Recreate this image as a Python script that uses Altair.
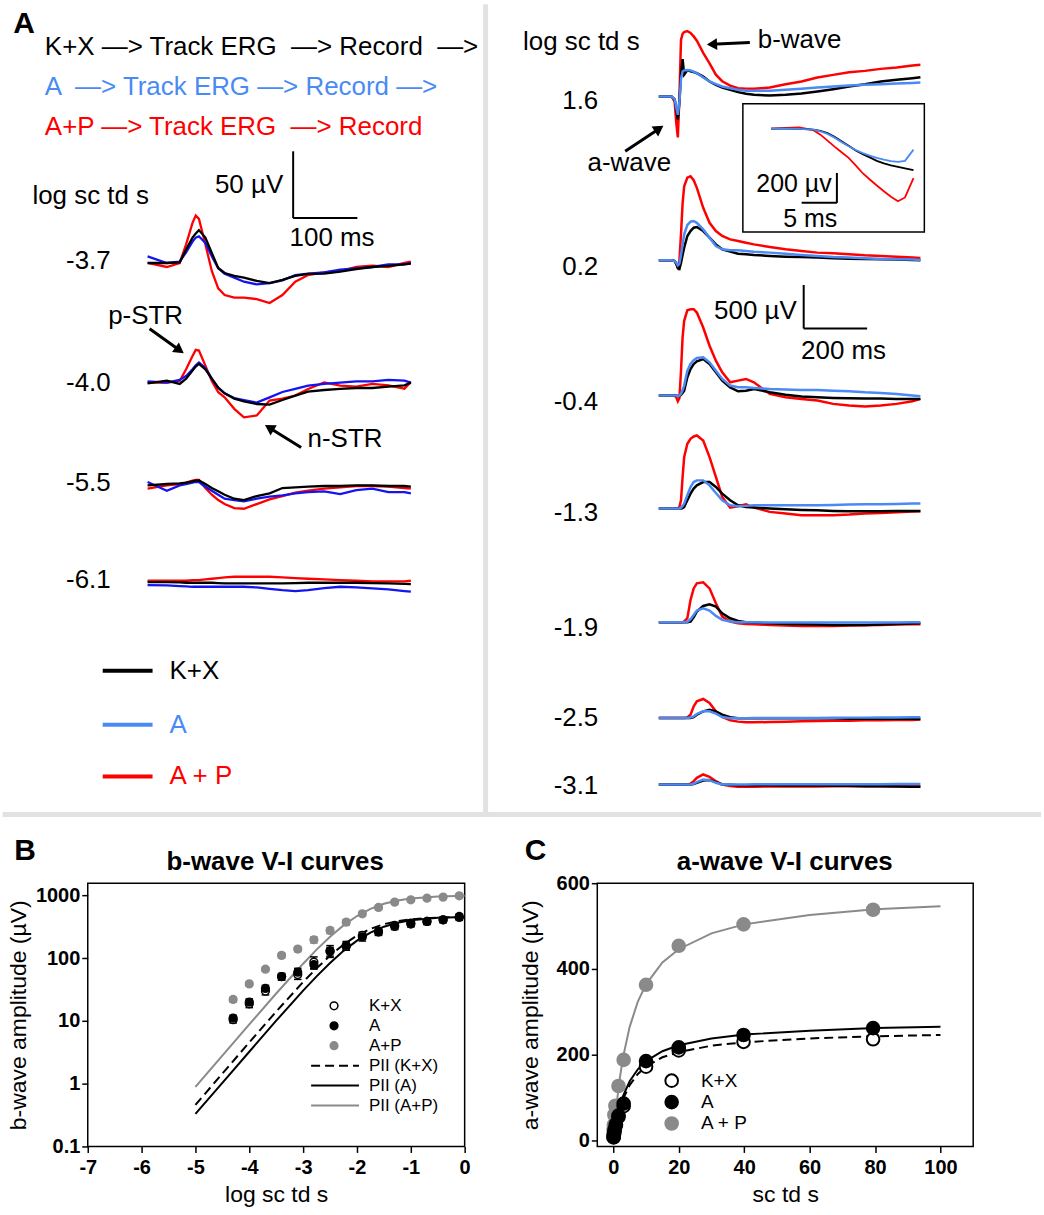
import math
import altair as alt
import pandas as pd

# ======================= values =======================
# Panel A (left): dim-flash ERGs, time in ms from sweep start, response in uV
AL_TIME = [0, 30, 50, 60, 70, 75, 80, 90, 100, 110, 120, 135, 150, 170, 190,
           210, 230, 250, 275, 300, 325, 350, 375, 400, 410]
AL_LEVELS = ["-3.7", "-4.0", "-5.5", "-6.1"]
AL_KX = {
    "-3.7": [0, 0, 0.5, 10, 19, 22, 24.6, 19, 7.5, -3.7, -7.5, -9.7, -11, -13.4, -15, -12.7, -9.7, -8.2, -8, -6.5, -4.5, -3, -2.2, -1, -0.5],
    "-4.0": [-0.5, 1.5, -1, 3, 9, 12, 14, 10, 3, -3.7, -8, -12, -14, -16, -16.5, -13, -9.7, -6.7, -5.5, -4.7, -4, -4, -3, -2, 0],
    "-5.5": [0, 1, 1.5, 2, 3, 3.5, 3.7, 1, -2, -4.5, -7, -10, -11, -8, -6, -2, -1.5, -1, -0.5, -0.5, 0, 0, -0.5, -0.5, -1],
    "-6.1": [0.5, 0.5, 0.3, 0, 0, 0, 0, 0, 0, -0.3, -0.5, -0.5, -0.5, -0.5, -0.5, -0.5, -0.3, 0, 0, 0, 0, -0.3, -0.5, -0.8, -1],
}
AL_A = {
    "-3.7": [5, 0, 1, 8, 16, 19, 20, 15, 5, -4, -8, -11, -14, -16, -15, -13, -9, -8, -7, -5, -4, -3, -1, -1, 0],
    "-4.0": [1, 0, 2, 5, 10, 13, 15, 11, 3, -4, -8, -11.5, -13, -15, -11, -7, -4.7, -2.2, -1, 0, 1, 1, 2, 1.5, 0],
    "-5.5": [2.5, -4, 0, 1, 2, 2.5, 2.5, -1, -4, -7, -10, -11, -12, -10, -8.5, -7.5, -6, -5, -4.5, -6.5, -3.5, -2.5, -5, -5, -6],
    "-6.1": [-1.7, -2, -2.5, -2.7, -3, -3, -3, -3, -3, -3, -3, -3, -3, -3.5, -4.5, -5.5, -6.2, -5.5, -4, -3, -3.5, -4.2, -5, -6.2, -6.7],
}
AL_AP = {
    "-3.7": [0, -3, 0, 14, 30, 35.5, 33, 14, -6, -19, -24, -26, -26, -27, -30, -24, -14, -9, -7, -6, -3, -2, -3, 0, 1],
    "-4.0": [0, 0, 1.2, 10, 20, 24.5, 24, 12.7, 1.2, -7.2, -11, -19.6, -26, -24.6, -13.4, -12, -9.7, -4.7, 0.2, -2.2, -3, -1, -2, -4.5, 0.5],
    "-5.5": [-2.5, 0, 1, 2, 3.5, 4, 4, -2, -7, -11, -14, -17, -17.5, -14, -10.5, -8, -5.5, -4, -2.5, -1.5, -0.5, -0.5, -1, -2, -2.5],
    "-6.1": [1.5, 1.5, 1.5, 1.5, 2, 2, 2, 2.5, 3, 3.5, 4, 4.5, 4.5, 4.5, 4.5, 4, 3.5, 3, 2.5, 2, 1.5, 1, 1, 1, 1.5],
}

# Panel A (right): brighter flashes, time in ms, response in uV
AR_TIME = [0, 40, 50, 55, 60, 65, 70, 75, 80, 90, 100, 110, 120, 140, 160, 180,
           200, 225, 250, 275, 300, 350, 400, 450, 500, 550, 600, 650, 700, 750, 800, 825]
AR_LEVELS = ["1.6", "0.2", "-0.4", "-1.3", "-1.9", "-2.5", "-3.1"]
AR_KX = {
    "1.6": [0, 0, -30, -150, -265, -60, 250, 430, 250, 300, 290, 280, 267, 229, 172, 134, 103, 76, 50, 31, 19, 11, 19, 34, 57, 84, 115, 141, 172, 191, 210, 221],
    "0.2": [0, 0, -10, -40, -90, -100, -30, 60, 145, 279, 336, 374, 382, 336, 260, 183, 126, 99, 76, 69, 61, 50, 42, 38, 31, 23, 19, 15, 11, 8, 4, 0],
    "-0.4": [0, 0, 0, 0, -5, -5, 10, 30, 57, 210, 305, 363, 393, 420, 363, 267, 172, 95, 50, 57, 76, 38, 11, -11, -19, -27, -31, -34, -34, -38, -38, -38],
    "-1.3": [0, 0, 0, 0, 0, 0, 0, 5, 19, 95, 172, 229, 267, 305, 305, 248, 172, 95, 38, 19, 11, 0, -8, -15, -19, -27, -31, -31, -31, -27, -27, -27],
    "-1.9": [0, 0, 0, 0, 0, 0, 0, 0, 0, 0, 8, 57, 122, 187, 206, 179, 103, 46, 15, 0, -4, -11, -19, -23, -27, -31, -31, -31, -27, -19, -15, -11],
    "-2.5": [0, 0, 0, 0, 0, 0, 0, 0, 0, 0, 0, 11, 38, 76, 95, 76, 38, 8, -4, -4, -4, -4, -4, -4, -4, -4, -8, -8, -8, -8, -8, -11],
    "-3.1": [0, 0, 0, 0, 0, 0, 0, 0, 0, 0, 0, 5, 19, 46, 50, 27, 0, -4, -8, -8, -8, -8, -11, -11, -11, -15, -15, -19, -19, -23, -27, -27],
}
AR_A = {
    "1.6": [0, 0, -30, -130, -210, -60, 200, 286, 300, 305, 300, 285, 267, 218, 172, 141, 115, 95, 76, 65, 65, 65, 76, 88, 103, 115, 126, 134, 141, 149, 156, 160],
    "0.2": [0, 0, -10, -30, -60, -40, 60, 180, 298, 405, 443, 450, 431, 355, 260, 164, 126, 115, 115, 107, 99, 88, 76, 61, 50, 38, 31, 23, 15, 11, 8, 4],
    "-0.4": [0, 0, 0, 0, -5, 0, 20, 60, 115, 286, 363, 408, 431, 439, 382, 286, 191, 115, 95, 95, 88, 76, 69, 65, 65, 57, 50, 38, 31, 19, 0, -8],
    "-1.3": [0, 0, 0, 0, 0, 0, 10, 30, 57, 153, 248, 305, 324, 324, 267, 179, 95, 38, 27, 31, 38, 38, 38, 38, 38, 42, 46, 50, 50, 53, 57, 57],
    "-1.9": [0, 0, 0, 0, 0, 0, 0, 0, 0, 5, 34, 84, 134, 160, 134, 73, 27, 8, 0, 0, 0, -4, -4, -4, -4, -4, -4, -4, -4, -2, 0, 0],
    "-2.5": [0, 0, 0, 0, 0, 0, 0, 0, 0, 0, 5, 19, 46, 76, 76, 50, 11, -4, -4, -2, 0, 0, 0, 0, 0, 2, 4, 4, 6, 6, 8, 8],
    "-3.1": [0, 0, 0, 0, 0, 0, 0, 0, 0, 0, 0, 8, 27, 57, 50, 19, 0, 0, 0, 0, 2, 2, 2, 4, 4, 4, 4, 4, 4, 6, 6, 6],
}
AR_AP = {
    "1.6": [0, 0, -60, -300, -470, 0, 650, 720, 740, 750, 730, 690, 640, 500, 380, 250, 175, 125, 95, 90, 88, 103, 141, 172, 218, 248, 279, 294, 317, 332, 355, 363],
    "0.2": [0, 0, -10, -40, -80, 0, 300, 650, 850, 950, 965, 920, 832, 603, 431, 336, 279, 240, 221, 202, 183, 153, 126, 107, 88, 80, 69, 57, 50, 42, 31, 27],
    "-0.4": [0, 0, 0, -20, -65, -30, 286, 668, 859, 981, 992, 992, 954, 782, 573, 401, 267, 153, 172, 191, 153, 19, -19, -38, -57, -95, -115, -126, -115, -95, -65, -38],
    "-1.3": [0, 0, 0, 0, 0, 20, 95, 363, 592, 744, 802, 828, 840, 782, 592, 363, 134, 11, 27, 50, 11, -38, -57, -76, -76, -76, -69, -57, -50, -42, -34, -31],
    "-1.9": [0, 0, 0, 0, 0, 0, 0, 0, 10, 46, 256, 389, 447, 458, 389, 218, 65, 8, -11, -19, -23, -31, -38, -42, -42, -42, -38, -34, -31, -27, -23, -23],
    "-2.5": [0, 0, 0, 0, 0, 0, 0, 0, 0, 5, 38, 134, 191, 218, 172, 76, 11, -27, -42, -50, -50, -46, -42, -38, -34, -31, -31, -27, -27, -23, -23, -19],
    "-3.1": [0, 0, 0, 0, 0, 0, 0, 0, 0, 0, 10, 38, 76, 115, 88, 38, 0, -19, -27, -27, -25, -23, -23, -22, -22, -21, -21, -20, -20, -19, -19, -19],
}

# Inset: a-wave leading edge at 1.6 log sc td s (ms, uV)
INSET_TIME = [0, 2, 4, 6, 7, 8, 9, 10, 11, 12, 13, 14, 15, 16, 17, 18, 19, 20.2]
INSET_KX = [0, 0, -2, -6, -15, -30, -55, -85, -115, -145, -170, -192, -215, -232, -245, -255, -265, -278]
INSET_A = [0, 0, -2, -7, -18, -35, -60, -90, -118, -143, -163, -180, -195, -207, -217, -222, -215, -140]
INSET_AP = [0, 5, 8, -10, -40, -80, -120, -158, -195, -245, -298, -340, -380, -418, -455, -485, -460, -330]

# Panel B: b-wave amplitude (uV) vs log sc td s
B_LOGI = [-4.3, -4.0, -3.7, -3.4, -3.1, -2.8, -2.5, -2.2, -1.9, -1.6, -1.3, -1.0, -0.7, -0.4, -0.1]
B_KX = [10.5, 18.8, 30, 51, 55, 87, 128, 154, 231, 261, 321, 350, 386, 410, 463]
B_KX_ERR = [1.2, 2.5, 4, 6, 9, 18, 20, 20, 30, 30, 35, 35, 40, 40, 45]
B_A = [11.1, 20, 33, 51, 60, 79, 131, 160, 220, 267, 333, 363, 386, 410, 447]
B_A_ERR = [1.2, 2.5, 4, 6, 9, 12, 28, 25, 32, 30, 35, 40, 40, 40, 45]
B_AP = [22, 39, 67, 111, 140, 197, 277, 376, 511, 645, 784, 852, 907, 942, 989]
B_AP_ERR = [2, 3, 5, 10, 13, 22, 30, 38, 45, 50, 55, 55, 55, 60, 70]
B_FIT_X = [-5, -4.5, -4, -3.5, -3, -2.75, -2.5, -2.25, -2, -1.75, -1.5, -1.25, -1, -0.5, 0]
B_FIT_KX = [0.46, 1.45, 4.55, 14.1, 41.8, 69, 110, 165, 230, 294, 349, 390, 418, 446, 455]
B_FIT_A = [0.33, 1.03, 3.23, 10.1, 30.4, 51.4, 84, 131, 191, 256, 318, 368, 403, 440, 454]
B_FIT_AP = [0.89, 2.8, 8.8, 27.4, 81.8, 137, 220, 334, 471, 613, 738, 834, 899, 966, 989]

# Panel C: a-wave amplitude (uV) vs sc td s
C_I = [79.4, 39.8, 20.0, 10.0, 3.16, 1.58, 0.79, 0.40, 0.20, 0.10]
C_KX = [236, 230, 210, 172, 80, 55, 35, 22, 13, 7]
C_A = [262, 246, 217, 185, 86, 58, 38, 25, 15, 8]
C_I_AP = [79.4, 39.8, 20.0, 10.0, 3.16, 1.58, 0.63, 0.32, 0.16, 0.08, 0.04, 0.02]
C_AP = [538, 504, 454, 363, 188, 127, 81, 60, 36, 25, 14, 8]
C_FIT_X = [0, 0.5, 1, 2, 3, 5, 7.5, 10, 15, 20, 30, 40, 60, 80, 100]
C_FIT_KX = [0, 23, 43, 74, 97, 129, 155, 172, 194, 206, 221, 229, 238, 243, 246]
C_FIT_A = [0, 25, 46, 79, 104, 138, 166, 185, 208, 222, 238, 247, 256, 262, 265]
C_FIT_AP = [0, 45, 84, 146, 195, 265, 324, 364, 415, 446, 483, 504, 526, 539, 546]

# ======================= style and layout (page pixels) =======================
FONT = "Liberation Sans"
BLACK, RED, LBLUE, DBLUE = "#000000", "#ff0000", "#4a8af4", "#1414f0"
GRAY, SEP = "#8a8a8a", "#e2e2e2"
NB = "\u00a0"   # non-breaking space keeps the double gaps of the original text
ARW = "\u2014>"

ROW1_H = 812
COL1_X, COL1_W = 88, 378
SP_COL = 133
COL2_X = COL1_X + COL1_W + SP_COL
COL2_W = 1044 - COL2_X
SP_ROW = 72
ROW2_Y = ROW1_H + SP_ROW
ROW2_H = 264
C_W = 377

AL_T0, AL_PXMS, AL_PXUV = 148.0, 0.644, 1.34
AL_BASE = {"-3.7": 262, "-4.0": 382, "-5.5": 485, "-6.1": 582.7}
AL_LABEL_Y = {"-3.7": 260, "-4.0": 382, "-5.5": 483, "-6.1": 580}
AR_T0, AR_PXMS, AR_PXUV = 660.7, 0.318, 0.0873
AR_BASE = {"1.6": 95, "0.2": 259.3, "-0.4": 395, "-1.3": 508.3, "-1.9": 622.3, "-2.5": 718.3, "-3.1": 785}
AR_LABEL_Y = {"1.6": 100, "0.2": 266, "-0.4": 401, "-1.3": 513, "-1.9": 628, "-2.5": 718, "-3.1": 787}
IN_T0, IN_PXMS, IN_Y0, IN_PXUV = 773.3, 7.07, 127.3, 0.15
B_XDOM, B_YDOM = (-7.0, 0.0), (0.1, 1570.0)
C_XDOM, C_YDOM = (-4.9, 110.0), (-14.0, 600.0)


def alx(px): return (px - AL_T0) / AL_PXMS
def aly(py): return (ROW1_H - py) / AL_PXUV
def arx(px): return (px - AR_T0) / AR_PXMS
def ary(py): return (ROW1_H - py) / AR_PXUV
def inx(px): return (px - IN_T0) / IN_PXMS
def iny(py): return (IN_Y0 - py) / IN_PXUV
def bx(px): return B_XDOM[0] + (px - COL1_X) * (B_XDOM[1] - B_XDOM[0]) / COL1_W
def by(py):
    l0, l1 = math.log10(B_YDOM[0]), math.log10(B_YDOM[1])
    return 10 ** (l0 + (ROW2_Y + ROW2_H - py) * (l1 - l0) / ROW2_H)
def cx(px): return C_XDOM[0] + (px - COL2_X) * (C_XDOM[1] - C_XDOM[0]) / C_W
def cy(py): return C_YDOM[0] + (ROW2_Y + ROW2_H - py) * (C_YDOM[1] - C_YDOM[0]) / ROW2_H


def lin(lo, hi):
    return alt.Scale(domain=[lo, hi], nice=False, zero=False)


class Panel:
    def __init__(self, xs, ys, cx_, cy_, xaxis=None, yaxis=None):
        self.xs, self.ys, self.cx, self.cy = xs, ys, cx_, cy_
        self.xaxis, self.yaxis = xaxis, yaxis

    def xy(self):
        return dict(x=alt.X("x:Q", scale=self.xs, axis=self.xaxis),
                    y=alt.Y("y:Q", scale=self.ys, axis=self.yaxis))

    def line(self, xs, ys, color, width=2.2, dash=None, detail=None, df=None):
        if df is None:
            df = pd.DataFrame({"x": xs, "y": ys})
        kw = dict(color=color, strokeWidth=width)
        if dash:
            kw["strokeDash"] = dash
        enc = self.xy()
        if detail:
            enc["detail"] = detail
        return alt.Chart(df).mark_line(**kw).encode(**enc)

    def texts(self, items):
        out = []
        groups = {}
        for it in items:
            groups.setdefault((it[3], it[4]), []).append(it)
        for (align, weight), rows in groups.items():
            df = pd.DataFrame({
                "label": [r[0] for r in rows],
                "x": [self.cx(r[1]) for r in rows],
                "y": [self.cy(r[2]) for r in rows],
                "c": [r[5] for r in rows],
                "fs": [r[6] for r in rows],
            })
            out.append(alt.Chart(df).mark_text(align=align, baseline="middle", font=FONT, fontWeight=weight)
                       .encode(**self.xy(), text="label:N",
                               color=alt.Color("c:N", scale=None),
                               size=alt.Size("fs:Q", scale=None)))
        return out

    def segments(self, segs, color, width, dash=None):
        df = pd.DataFrame(segs, columns=["x", "y", "x2", "y2"])
        kw = dict(color=color, strokeWidth=width)
        if dash:
            kw["strokeDash"] = dash
        return alt.Chart(df).mark_rule(**kw).encode(**self.xy(), x2="x2:Q", y2="y2:Q")

    def arrows(self, specs):
        shafts, heads = [], []
        for (x1, y1, x2, y2) in specs:
            dx, dy = x2 - x1, y2 - y1
            L = math.hypot(dx, dy)
            ux, uy = dx / L, dy / L
            hx, hy = x2 - 6 * ux, y2 - 6 * uy
            ang = (math.degrees(math.atan2(dx, -dy)) + 360.0) % 360.0
            shafts.append((self.cx(x1), self.cy(y1), self.cx(hx), self.cy(hy)))
            heads.append({"x": self.cx(hx), "y": self.cy(hy), "ang": ang})
        return [self.segments(shafts, BLACK, 3),
                alt.Chart(pd.DataFrame(heads)).mark_point(shape="triangle-up", filled=True, color=BLACK,
                                                          size=140, opacity=1)
                .encode(**self.xy(), angle=alt.Angle("ang:Q", scale=None))]


def trace_frame(time, table, base_px, yconv):
    rows = []
    for lvl, vals in table.items():
        off = yconv(base_px[lvl])
        for t, v in zip(time, vals):
            rows.append({"x": t, "y": v + off, "lvl": lvl})
    return pd.DataFrame(rows)


# ======================= Panel A, left =======================
AL = Panel(lin(alx(COL1_X), alx(COL1_X + COL1_W)), lin(aly(ROW1_H), aly(0)), alx, aly)
one = pd.DataFrame({"k": [0]})
al_layers = [
    alt.Chart(one).mark_rule(color=SEP, strokeWidth=5).encode(
        x=alt.value(487 - COL1_X), y=alt.value(2.5), y2=alt.value(ROW1_H + 4)),
    alt.Chart(one).mark_rule(color=SEP, strokeWidth=5).encode(
        x=alt.value(-COL1_X + 2.5), x2=alt.value(1044 - COL1_X), y=alt.value(815)),
    AL.line(None, None, RED, 2.3, detail="lvl:N", df=trace_frame(AL_TIME, AL_AP, AL_BASE, aly)),
    AL.line(None, None, DBLUE, 2.3, detail="lvl:N", df=trace_frame(AL_TIME, AL_A, AL_BASE, aly)),
    AL.line(None, None, BLACK, 2.3, detail="lvl:N", df=trace_frame(AL_TIME, AL_KX, AL_BASE, aly)),
]
t0, u0 = alx(294), aly(217)
al_layers.append(AL.segments([(t0, u0, t0, u0 + 50), (t0, u0, t0 + 100, u0)], BLACK, 2))
al_layers.append(AL.segments([(alx(103), aly(671), alx(153), aly(671))], BLACK, 4))
al_layers.append(AL.segments([(alx(103), aly(725), alx(153), aly(725))], LBLUE, 4))
al_layers.append(AL.segments([(alx(103), aly(777), alx(153), aly(777))], RED, 4))
al_layers += AL.arrows([(150, 328, 185, 353), (302, 447, 265, 424)])
AL_TEXT = [
    ("A", 24, 22, "center", "bold", BLACK, 30),
    (f"K+X {ARW} Track ERG {NB}{ARW} Record {NB}{ARW}", 45, 45, "left", "normal", BLACK, 26),
    (f"A {NB}{ARW} Track ERG {ARW} Record {ARW}", 45, 86, "left", "normal", LBLUE, 26),
    (f"A+P {ARW} Track ERG {NB}{ARW} Record", 45, 126, "left", "normal", RED, 26),
    ("log sc td s", 91, 195, "center", "normal", BLACK, 26),
    ("50 µV", 284, 184, "right", "normal", BLACK, 26),
    ("100 ms", 333, 237, "center", "normal", BLACK, 26),
    ("p-STR", 146, 315, "center", "normal", BLACK, 26),
    ("n-STR", 346, 439, "center", "normal", BLACK, 26),
    ("K+X", 170, 671, "left", "normal", BLACK, 26),
    ("A", 170, 725, "left", "normal", LBLUE, 26),
    ("A + P", 170, 777, "left", "normal", RED, 26),
] + [(lvl, 111, AL_LABEL_Y[lvl], "right", "normal", BLACK, 26) for lvl in AL_LEVELS]
al_layers += AL.texts(AL_TEXT)
chart_al = alt.layer(*al_layers).properties(width=COL1_W, height=ROW1_H)

# ======================= Panel A, right =======================
AR = Panel(lin(arx(COL2_X), arx(COL2_X + COL2_W)), lin(ary(ROW1_H), ary(0)), arx, ary)
ar_layers = [
    AR.line(None, None, RED, 2.5, detail="lvl:N", df=trace_frame(AR_TIME, AR_AP, AR_BASE, ary)),
    AR.line(None, None, BLACK, 2.5, detail="lvl:N", df=trace_frame(AR_TIME, AR_KX, AR_BASE, ary)),
    AR.line(None, None, LBLUE, 2.5, detail="lvl:N", df=trace_frame(AR_TIME, AR_A, AR_BASE, ary)),
]
t1, u1 = arx(806), ary(327.7)
ar_layers.append(AR.segments([(t1, u1, t1, u1 + 500), (t1, u1, t1 + 200, u1)], BLACK, 2))
box = pd.DataFrame({"x": [arx(745)], "x2": [arx(927)], "y": [ary(102.3)], "y2": [ary(231)]})
ar_layers.append(alt.Chart(box).mark_rect(fill="white", stroke=BLACK, strokeWidth=1.5)
                 .encode(**AR.xy(), x2="x2:Q", y2="y2:Q"))
ar_layers += AR.arrows([(752, 41, 708, 43), (627, 150, 666, 124)])
AR_TEXT = [
    ("log sc td s", 583, 40, "center", "normal", BLACK, 26),
    ("b-wave", 760, 38, "left", "normal", BLACK, 26),
    ("a-wave", 673, 162, "right", "normal", BLACK, 26),
    ("500 µV", 799, 310, "right", "normal", BLACK, 26),
    ("200 ms", 846, 350, "center", "normal", BLACK, 26),
] + [(lvl, 600, AR_LABEL_Y[lvl], "right", "normal", BLACK, 26) for lvl in AR_LEVELS]
ar_layers += AR.texts(AR_TEXT)

IN = Panel(lin(inx(COL2_X), inx(COL2_X + COL2_W)), lin(iny(ROW1_H), iny(0)), inx, iny)
in_layers = [
    IN.line(INSET_TIME, INSET_AP, RED, 1.8),
    IN.line(INSET_TIME, INSET_KX, BLACK, 1.8),
    IN.line(INSET_TIME, INSET_A, LBLUE, 1.8),
]
t2, u2 = inx(839.3), iny(201.7)
in_layers.append(IN.segments([(t2, u2, t2, u2 + 200), (t2, u2, t2 - 5, u2)], BLACK, 2))
in_layers += IN.texts([
    ("200 µv", 834, 183, "right", "normal", BLACK, 25),
    ("5 ms", 812.5, 218, "center", "normal", BLACK, 25),
])
chart_ar = (alt.layer(alt.layer(*ar_layers), alt.layer(*in_layers))
            .resolve_scale(x="independent", y="independent")
            .properties(width=COL2_W, height=ROW1_H))


# ======================= axes for B and C =======================
def make_axis(title, values, title_pad, label_pad, label_expr=None, fmt=None):
    kw = dict(title=title, values=values, domain=False, grid=False, ticks=True,
              tickSize=6, tickWidth=1.5, tickColor=BLACK,
              labelFont=FONT, labelFontSize=20, labelFontWeight="bold", labelColor=BLACK,
              labelPadding=label_pad, labelFlush=False, labelOverlap=False,
              titleFont=FONT, titleFontSize=23, titleFontWeight="normal", titleColor=BLACK,
              titlePadding=title_pad)
    if label_expr:
        kw["labelExpr"] = label_expr
    if fmt:
        kw["format"] = fmt
    return alt.Axis(**kw)


FRAME = alt.ViewBackground(stroke=BLACK, strokeWidth=1.5)

# ======================= Panel B =======================
B = Panel(lin(*B_XDOM), alt.Scale(type="log", domain=list(B_YDOM), nice=False), bx, by,
          make_axis("log sc td s", list(range(-7, 1)), 6, 5, label_expr="'' + datum.value"),
          make_axis("b-wave amplitude (µV)", [0.1, 1, 10, 100, 1000], 5, 2, fmt="~g"))


def b_points(xs, ys, fill, stroke, size=60):
    df = pd.DataFrame({"x": xs, "y": ys})
    return alt.Chart(df).mark_point(shape="circle", filled=True, fill=fill, stroke=stroke,
                                    strokeWidth=1.5, size=size, opacity=1).encode(**B.xy())


def b_errors(xs, ys, es, color):
    cap = 0.07
    segs = []
    for x, y, e in zip(xs, ys, es):
        segs.append((x, y - e, x, y + e))
        segs.append((x - cap, y - e, x + cap, y - e))
        segs.append((x - cap, y + e, x + cap, y + e))
    return B.segments(segs, color, 1.5)


b_layers = [
    B.line(B_FIT_X, B_FIT_AP, GRAY, 2),
    B.line(B_FIT_X, B_FIT_KX, BLACK, 2, dash=[9, 5]),
    B.line(B_FIT_X, B_FIT_A, BLACK, 2),
    b_errors(B_LOGI, B_AP, B_AP_ERR, GRAY),
    b_errors(B_LOGI, B_KX, B_KX_ERR, BLACK),
    b_errors(B_LOGI, B_A, B_A_ERR, BLACK),
    b_points(B_LOGI, B_AP, GRAY, GRAY),
    b_points(B_LOGI, B_KX, "white", BLACK),
    b_points(B_LOGI, B_A, BLACK, BLACK),
    b_points([bx(335)], [by(1007)], "white", BLACK),
    b_points([bx(335)], [by(1027)], BLACK, BLACK),
    b_points([bx(335)], [by(1047)], GRAY, GRAY),
    B.segments([(bx(312), by(1067), bx(360), by(1067))], BLACK, 2, dash=[9, 5]),
    B.segments([(bx(312), by(1087), bx(360), by(1087))], BLACK, 2),
    B.segments([(bx(312), by(1107), bx(360), by(1107))], GRAY, 2),
]
b_layers += B.texts([
    ("B", 25, 852, "center", "bold", BLACK, 30),
    ("b-wave V-I curves", 276, 863, "center", "bold", BLACK, 26),
    ("K+X", 370, 1007, "left", "normal", BLACK, 17),
    ("A", 370, 1027, "left", "normal", BLACK, 17),
    ("A+P", 370, 1047, "left", "normal", BLACK, 17),
    ("PII (K+X)", 370, 1067, "left", "normal", BLACK, 17),
    ("PII (A)", 370, 1087, "left", "normal", BLACK, 17),
    ("PII (A+P)", 370, 1107, "left", "normal", BLACK, 17),
])
chart_b = alt.layer(*b_layers).properties(width=COL1_W, height=ROW2_H, view=FRAME)

# ======================= Panel C =======================
C = Panel(lin(*C_XDOM), lin(*C_YDOM), cx, cy,
          make_axis("sc td s", [0, 20, 40, 60, 80, 100], 6, 5, fmt="d"),
          make_axis("a-wave amplitude (µV)", [0, 200, 400, 600], 14, 2, fmt="d"))


def c_points(xs, ys, fill, stroke, size=160):
    df = pd.DataFrame({"x": xs, "y": ys})
    return alt.Chart(df).mark_point(shape="circle", filled=True, fill=fill, stroke=stroke,
                                    strokeWidth=2, size=size, opacity=1).encode(**C.xy())


c_layers = [
    C.line(C_FIT_X, C_FIT_AP, GRAY, 2),
    c_points(C_I_AP, C_AP, GRAY, GRAY),
    C.line(C_FIT_X, C_FIT_KX, BLACK, 2, dash=[9, 5]),
    C.line(C_FIT_X, C_FIT_A, BLACK, 2),
    c_points(C_I, C_KX, "white", BLACK),
    c_points(C_I, C_A, BLACK, BLACK),
    c_points([cx(673.6)], [cy(1082)], "white", BLACK),
    c_points([cx(673.6)], [cy(1103.5)], BLACK, BLACK),
    c_points([cx(673.6)], [cy(1125)], GRAY, GRAY),
]
c_layers += C.texts([
    ("C", 537, 852, "center", "bold", BLACK, 30),
    ("a-wave V-I curves", 787, 863, "center", "bold", BLACK, 26),
    ("K+X", 703, 1082, "left", "normal", BLACK, 19),
    ("A", 703, 1103.5, "left", "normal", BLACK, 19),
    ("A + P", 703, 1125, "left", "normal", BLACK, 19),
])
chart_c = alt.layer(*c_layers).properties(width=C_W, height=ROW2_H, view=FRAME)

# ======================= assemble =======================
chart = (alt.concat(chart_al, chart_ar, chart_b, chart_c, columns=2,
                    spacing={"row": SP_ROW, "column": SP_COL}, bounds="flush", align="each")
         .properties(padding=0, background="white")
         .configure_view(stroke=None))

chart.save("out.html", embed_options={"renderer": "svg", "actions": False})
